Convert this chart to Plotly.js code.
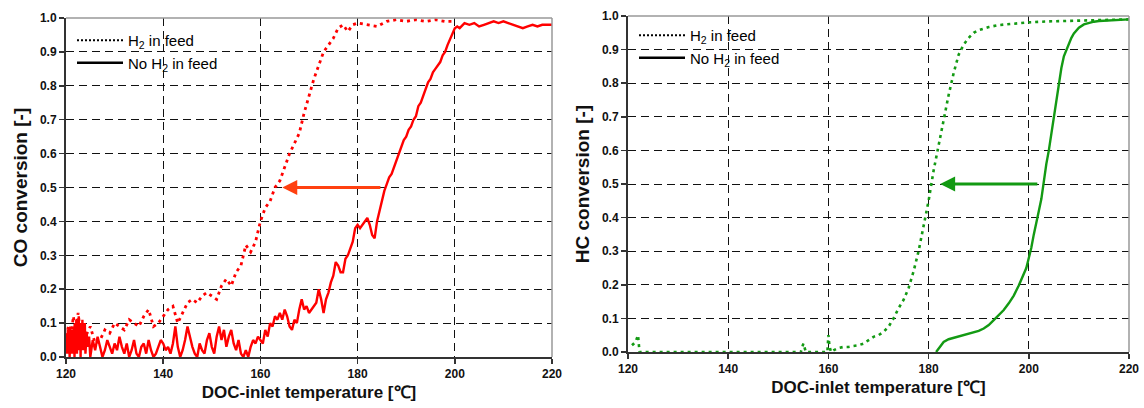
<!DOCTYPE html>
<html>
<head>
<meta charset="utf-8">
<script src="https://cdn.plot.ly/plotly-3.0.1.min.js"></script>
<style>html,body{margin:0;padding:0;background:#fff;}#chart{width:1144px;height:408px;}</style>
</head>
<body>
<div id="chart"></div>
<script>
// ---------- CO conversion (left) ----------
const coH2_T = [120,120.5,121,121.5,122,122.5,123,123.5,124,125,126,127,128,129,130,131,132,133,134,135,136,137,138,139,140,141,142,143,144,145,146,147,148,149,150,151,152,153,154,155,156,157,158,159,160,161,162,163,164,165,166,167,168,169,170,171,172,173,174,175,176,177,178,179,180,182,184,186,188,190,192,194,196,198,200];
const coH2_C = [0.06,0.09,0.05,0.12,0.08,0.13,0.07,0.10,0.06,0.09,0.04,0.05,0.08,0.07,0.10,0.09,0.08,0.11,0.10,0.09,0.12,0.14,0.09,0.10,0.12,0.14,0.15,0.10,0.13,0.16,0.17,0.16,0.18,0.19,0.18,0.17,0.21,0.23,0.21,0.25,0.27,0.33,0.31,0.34,0.40,0.44,0.46,0.50,0.52,0.56,0.60,0.63,0.66,0.72,0.77,0.82,0.86,0.90,0.92,0.94,0.97,0.98,0.96,0.98,0.985,0.98,0.975,0.99,0.995,0.99,0.995,0.99,0.995,0.99,0.99];

const coNoH2_T = [120,120.125,120.25,120.375,120.5,120.625,120.75,120.875,121,121.125,121.25,121.375,121.5,121.625,121.75,121.875,122,122.125,122.25,122.375,122.5,122.625,122.75,122.875,123,123.125,123.25,123.375,123.5,123.625,123.75,123.875,124,124.25,124.5,124.75,125,125.5,126,126.5,127,127.5,128,128.5,129,129.5,130,130.5,131,131.5,132,132.5,133,133.5,134,134.5,135,135.5,136,136.5,137,137.5,138,138.5,139,139.5,140,140.5,141,141.5,142,142.5,143,143.5,144,144.5,145,145.5,146,146.5,147,147.5,148,148.5,149,149.5,150,150.5,151,151.5,152,152.5,153,153.5,154,154.5,155,155.5,156,156.5,157,157.5,158,158.5,159,159.5,160,160.5,161,161.5,162,162.5,163,163.5,164,164.5,165,165.5,166,166.5,167,167.5,168,168.5,169,169.5,170,171,171.5,172,172.5,173,173.5,174,174.5,175,175.5,176,176.5,177,177.5,178,178.5,179,179.5,180,180.5,181,181.5,182,182.5,183,183.5,184,184.5,185,185.5,186,186.5,187,187.5,188,188.5,189,189.5,190,190.5,191,191.5,192,192.5,193,193.5,194,194.5,195,195.5,196,196.5,197,197.5,198,198.5,199,199.5,200,200.5,201,202,203,204,205,206,207,208,209,210,211,212,213,214,215,216,217,218,219,220];
const coNoH2_C = [0.02,0.07,0.01,0.08,0.03,0.06,0.0,0.09,0.02,0.07,0.01,0.08,0.04,0.09,0.0,0.10,0.03,0.11,0.01,0.09,0.05,0.12,0.02,0.10,0.0,0.09,0.04,0.11,0.02,0.08,0.05,0.10,0.01,0.07,0.03,0.06,0.0,0.05,0.02,0.06,0.03,0.0,0.02,0.05,0.03,0.01,0.04,0.02,0.06,0.03,0.01,0.04,0.0,0.02,0.05,0.01,0.0,0.03,0.04,0.01,0.05,0.02,0.0,0.01,0.03,0.05,0.04,0.02,0.03,0.01,0.04,0.09,0.03,0.0,0.02,0.05,0.09,0.06,0.03,0.01,0.0,0.04,0.02,0.01,0.05,0.07,0.03,0.01,0.06,0.09,0.05,0.08,0.03,0.06,0.08,0.04,0.02,0.05,0.01,0.0,0.02,0.0,0.03,0.05,0.04,0.06,0.05,0.04,0.08,0.06,0.10,0.09,0.12,0.11,0.13,0.11,0.14,0.12,0.09,0.08,0.11,0.10,0.14,0.17,0.14,0.15,0.13,0.15,0.16,0.20,0.17,0.13,0.17,0.19,0.22,0.24,0.28,0.27,0.25,0.25,0.29,0.30,0.32,0.34,0.38,0.39,0.38,0.39,0.40,0.41,0.39,0.36,0.35,0.40,0.43,0.46,0.49,0.51,0.53,0.54,0.56,0.58,0.60,0.62,0.64,0.65,0.67,0.68,0.70,0.71,0.74,0.75,0.77,0.79,0.81,0.82,0.84,0.85,0.86,0.87,0.89,0.90,0.92,0.935,0.95,0.97,0.975,0.97,0.985,0.98,0.985,0.975,0.98,0.985,0.99,0.985,0.99,0.985,0.98,0.975,0.97,0.975,0.98,0.975,0.98,0.98,0.98];

// ---------- HC conversion (right) ----------
const hcH2_T = [120.8,121.5,122,122.3,125,130,140,150,154.5,155,155.5,159.8,160,160.2,160.5,161,162,163,164,165,166,167,168,169,170,171,172,173,174,175,176,177,178,179,180,181,182,183,184,185,186,187,188,189,190,192,194,196,198,200,204,208,212,216,220];
const hcH2_C = [0.02,0.03,0.05,0.0,0.0,0.0,0.0,0.0,0.0,0.025,0.0,0.0,0.05,0.02,0.0,0.005,0.012,0.015,0.015,0.018,0.02,0.025,0.035,0.045,0.05,0.06,0.075,0.10,0.13,0.155,0.19,0.24,0.30,0.37,0.45,0.54,0.62,0.69,0.765,0.83,0.885,0.915,0.935,0.95,0.958,0.967,0.973,0.976,0.979,0.981,0.984,0.986,0.988,0.989,0.99];

const hcNoH2_T = [181.5,182,182.5,183,184,185,186,187,188,189,190,191,192,193,194,195,196,197,198,199,199.5,200,200.5,201,201.5,202,202.5,203,203.5,204,204.5,205,205.5,206,206.5,207,207.5,208,208.5,209,209.5,210,211,212,213,214,216,218,220];
const hcNoH2_C = [0.0,0.01,0.02,0.03,0.038,0.042,0.045,0.05,0.053,0.057,0.063,0.07,0.08,0.095,0.11,0.125,0.145,0.168,0.198,0.23,0.25,0.28,0.31,0.35,0.39,0.42,0.455,0.51,0.56,0.60,0.65,0.69,0.74,0.79,0.845,0.88,0.90,0.92,0.935,0.948,0.957,0.965,0.975,0.98,0.983,0.985,0.987,0.989,0.99];

// arrows (tail -> head) at 50 % conversion
const coArrow = {from: 185, to: 164.5, level: 0.5};
const hcArrow = {from: 202, to: 182.3, level: 0.5};

const xTicks = [120,140,160,180,200,220];
const yTicks = [0,0.1,0.2,0.3,0.4,0.5,0.6,0.7,0.8,0.9,1.0];

const RED = '#ff0000', GREEN = '#139a13';
const FONT = 'Liberation Sans, Arial, sans-serif';

const traces = [
  {x: coH2_T, y: coH2_C, xaxis:'x', yaxis:'y', mode:'lines', line:{color:RED, width:2.8, dash:'3px,4px'}, showlegend:false},
  {x: coNoH2_T, y: coNoH2_C, xaxis:'x', yaxis:'y', mode:'lines', line:{color:RED, width:2.4}, showlegend:false},
  {x: hcH2_T, y: hcH2_C, xaxis:'x2', yaxis:'y2', mode:'lines', line:{color:GREEN, width:2.6, dash:'3px,4px'}, showlegend:false},
  {x: hcNoH2_T, y: hcNoH2_C, xaxis:'x2', yaxis:'y2', mode:'lines', line:{color:GREEN, width:2.4}, showlegend:false},
  // legend entries
  {x:[null], y:[null], xaxis:'x', yaxis:'y', mode:'lines', name:'H<sub>2</sub> in feed', line:{color:'#000', width:2, dash:'2px,2px'}, legend:'legend'},
  {x:[null], y:[null], xaxis:'x', yaxis:'y', mode:'lines', name:'No H<sub>2</sub> in feed', line:{color:'#000', width:2.5}, legend:'legend'},
  {x:[null], y:[null], xaxis:'x2', yaxis:'y2', mode:'lines', name:'H<sub>2</sub> in feed', line:{color:'#000', width:2, dash:'2px,2px'}, legend:'legend2'},
  {x:[null], y:[null], xaxis:'x2', yaxis:'y2', mode:'lines', name:'No H<sub>2</sub> in feed', line:{color:'#000', width:2.5}, legend:'legend2'}
];

function xax(domain, anchor){
  return {domain: domain, anchor: anchor, range:[120,220], tickvals: xTicks, ticktext: xTicks.map(String),
    showgrid:true, gridcolor:'#111', gridwidth:1, griddash:'8px,5px', zeroline:false,
    showline:true, linecolor:'#333', linewidth:2, ticks:'outside', ticklen:5, tickcolor:'#333', tickwidth:1.5,
    tickfont:{family:FONT, size:12, color:'#111', weight:'bold'},
    title:{text:'DOC-inlet temperature [℃]', font:{family:FONT, size:17, color:'#111', weight:'bold'}, standoff:6},
    automargin:false, fixedrange:true};
}
function yax(domain, anchor, title){
  return {domain: domain, anchor: anchor, range:[0,1], tickvals: yTicks, ticktext: yTicks.map(v=>v.toFixed(1)),
    showgrid:true, gridcolor:'#111', gridwidth:1, griddash:'8px,5px', zeroline:false,
    showline:true, linecolor:'#333', linewidth:2, ticks:'outside', ticklen:5, tickcolor:'#333', tickwidth:1.5,
    tickfont:{family:FONT, size:12, color:'#111', weight:'bold'},
    title:{text:title, font:{family:FONT, size:19, color:'#111', weight:'bold'}, standoff:7},
    automargin:false, fixedrange:true};
}

function border(xr, yr){
  return [
    {type:'line', xref:xr+' domain', yref:yr+' domain', x0:0, x1:1, y0:1, y1:1, line:{color:'#999', width:1.5}},
    {type:'line', xref:xr+' domain', yref:yr+' domain', x0:1, x1:1, y0:0, y1:1, line:{color:'#999', width:1.5}}
  ];
}

const layout = {
  width:1144, height:408,
  margin:{l:0, r:0, t:0, b:0},
  paper_bgcolor:'#fff', plot_bgcolor:'#fff',
  font:{family:FONT, color:'#111'},
  xaxis: xax([66/1144, 552/1144], 'y'),
  yaxis: yax([51/408, 390/408], 'x', 'CO conversion [-]'),
  xaxis2: xax([628/1144, 1129/1144], 'y2'),
  yaxis2: yax([56/408, 392/408], 'x2', 'HC conversion [-]'),
  legend: {x:72/1144, y:1-24/408, xanchor:'left', yanchor:'top', bgcolor:'rgba(0,0,0,0)', borderwidth:0,
    font:{family:FONT, size:15, color:'#000'}, itemwidth:46, tracegroupgap:0},
  legend2: {x:634/1144, y:1-19/408, xanchor:'left', yanchor:'top', bgcolor:'rgba(0,0,0,0)', borderwidth:0,
    font:{family:FONT, size:15, color:'#000'}, itemwidth:46, tracegroupgap:0},
  shapes: [].concat(border('x','y'), border('x2','y2')),
  annotations: [
    {x:coArrow.to, y:coArrow.level, ax:coArrow.from, ay:coArrow.level, xref:'x', yref:'y', axref:'x', ayref:'y',
     text:'', showarrow:true, arrowhead:2, arrowsize:1, arrowwidth:3, arrowcolor:'#ff4010'},
    {x:hcArrow.to, y:hcArrow.level, ax:hcArrow.from, ay:hcArrow.level, xref:'x2', yref:'y2', axref:'x2', ayref:'y2',
     text:'', showarrow:true, arrowhead:2, arrowsize:1, arrowwidth:3, arrowcolor:'#129a12'}
  ],
  showlegend:true
};

Plotly.newPlot('chart', traces, layout, {staticPlot:true, displayModeBar:false});
</script>
</body>
</html>
